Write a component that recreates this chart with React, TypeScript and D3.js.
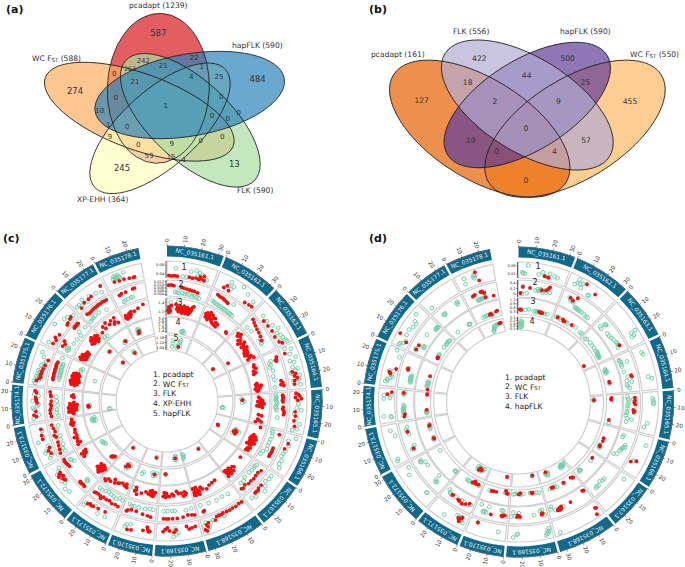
import React from "react";
import * as d3 from "d3";

const FONT = "'DejaVu Sans', sans-serif";
const sectorNames = ["NC_035161.1","NC_035162.1","NC_035163.1","NC_035164.1","NC_035165.1","NC_035166.1","NC_035167.1","NC_035168.1","NC_035169.1","NC_035170.1","NC_035171.1","NC_035172.1","NC_035173.1","NC_035174.1","NC_035175.1","NC_035176.1","NC_035177.1","NC_035178.1"];
const sectorStart = [0,22.3,44.5,65.1,85.7,104.9,123.9,142.4,165.4,185.5,203.2,221.1,242.2,260.9,276.9,294.9,314.9,332.4];
const sectorEnd = [21.4,43.6,64.2,84.8,104,123,141.5,164.5,184.6,202.3,220.2,241.3,260,276,294,314,331.5,349.4];
const sectorMb = [33,33,29.5,29,29,28,27,34,29,27,27,32,28,24,26,29,26,27];

// ----- Panel (c): rows are sectors 161..178, flat pairs of position (%) and value (%)
const cT1Red = [
[4,10,10,8,16,10,22,8,48,12,55,10,62,15,70,30,74,18,78,40,68,10,80,12],
[20,20,25,40,32,15,85,15,92,18,75,10],
[30,10,45,12,60,15,75,10,90,18,95,35],
[60,30,65,50,70,40,75,55,80,35,88,30,15,20],
[5,35,8,50,12,60,15,30,18,70,22,45,50,30,60,35,72,30,85,40],
[25,30,40,20],
[45,15,55,15,60,25,65,20,70,22],
[5,10,12,8,20,12,28,10,35,12,42,10,50,8,55,12,60,10,65,12,70,30,85,30,88,55,90,40,92,80,95,70],
[10,30,18,35,25,40,30,20,55,35,60,50,70,40,75,20,80,30,85,45],
[12,50,15,55,18,40,20,25,30,50,60,65,70,70],
[35,20,55,25,70,30,75,35,80,28,85,38],
[55,30,60,40,65,25,68,55,70,35,72,45,75,30],
[20,20,28,30,35,15,60,40,70,40,85,35],
[15,50,20,65,30,50,55,40,60,45,65,45,70,50,85,45,90,55],
[12,55,18,40,22,30,28,35,32,30,38,30,45,25,55,20,70,10],
[10,25,20,15,25,30,35,15,65,10,70,15,80,20,85,25],
[15,15,30,30,45,30,55,35,90,60],
[22,40,35,35,48,35,62,30,73,27,76,28],
];
const cT1Green = [
[18,60,50,50,60,65,68,55,74,45,65,30,34,10,42,12,85,20],
[30,75,38,55,28,45,55,90,70,65,88,50,35,30],
[20,30,35,25,50,40,62,60,70,35,78,50,85,55,88,30,92,65,96,70],
[5,30,10,70,20,50,30,80,35,35,40,60,50,40,55,70,58,55,62,20,65,35,70,75,78,65,82,25,85,50,90,70],
[30,50,40,40,45,70,55,25,65,45,78,70,90,60,95,30],
[8,70,18,25,30,40,45,30,52,25,60,20,70,35,80,30,88,45],
[10,30,20,30,30,20,40,40,50,60,75,45,85,30],
[50,30,75,25,80,35,85,60,90,25,95,45],
[50,55,55,65,58,40,62,80,58,25],
[65,30,75,40,78,55],
[30,50,50,55,65,20,90,40,92,60],
[30,60,40,70,50,45,58,55,62,30,66,40,74,55,78,35,85,20],
[10,40,15,25,25,55,30,40,40,20,55,75,65,35,80,30],
[10,70,20,30,35,60,40,70,45,40,50,30,60,70,75,30,80,60],
[5,60,10,70,14,40,18,55,22,60,26,40,30,55,34,45,38,55,42,40,48,30,52,45,58,30,65,20,75,45,85,65],
[8,55,50,80,72,50,80,40,92,20],
[8,40,15,40,20,25,30,55,40,20,50,45,70,35,85,20],
[22,60,25,75,27,65,28,55,30,70,32,50,33,60,35,78,38,65,40,55,52,78],
];
const cT2Red = [
[4,70,10,72,16,68,34,62,40,58,47,55,54,52,60,50,66,50,74,45],
[15,85,20,80,25,78,30,78,35,72,40,70,45,65],
[10,90,18,80,26,72,35,65,45,60,55,55,65,45],
[15,85,20,80,22,70,25,75,75,70,80,80,85,65,88,85],
[8,70,12,72,15,75,18,70,22,68,26,72,40,75,45,70,50,80,55,85,60,80],
[10,80,50,72,55,72,60,75,65,72,70,70,75,72],
[15,80,25,70,35,70,45,75,55,70,65,72,75,60,85,70,90,65],
[85,70,88,75],
[5,80,12,75,22,70,35,80,50,85,62,85,72,85,78,85,85,85],
[15,80,25,75,40,70,60,60,75,60,85,70,88,80],
[10,75,20,70,30,75,40,65,50,70,60,65,65,85,70,72,78,68,85,70,90,75],
[15,90,20,88,25,90,28,92,30,88,75,80,80,85,85,88,88,90,92,92,95,88],
[10,90,20,85,30,80,40,75,55,75,60,85,70,72,80,78,90,85],
[10,75,20,80,30,80,35,75,45,70,50,75,60,70,75,72,80,75,90,80],
[22,72,26,75,30,72,34,72,38,75,42,72,46,72,50,75,54,72,58,72,62,72,66,75,70,72,74,70],
[15,85,22,75,28,90,70,85,72,90,75,85,78,88,80,85,83,88,85,85],
[15,85,22,80,30,82,38,85,45,85,52,85,58,88,65,85,72,88,78,85,85,85],
[20,70,27,75,40,75,62,80,68,82],
];
const cT2Green = [
[20,25,25,20,30,18,30,55,38,22,44,18,50,18,56,20,62,12,68,15,74,12,80,10],
[10,30,15,25,20,22,25,20,30,18,35,18,40,15,45,15,50,14,55,12,58,80,60,12,65,10,70,10],
[15,20,30,25,60,40,65,42,70,38,72,30],
[20,35,25,20,30,25,35,15,45,30,60,20,70,25,90,20],
[8,20,12,25,16,22,20,20,25,25,30,30,35,25,40,20,45,22,50,28,70,40],
[5,25,10,30,20,35,30,30,40,30,50,30,60,35,70,15,80,10],
[10,30,15,20,20,25,30,25,40,20,60,20,70,35,80,30],
[20,35,35,30,50,35,70,30,90,25],
[10,30,25,35,55,30,62,30,75,30,85,30],
[10,25,20,25,35,30,55,30,70,30,78,35,85,25],
[5,20,15,15,25,30,35,25,45,20,55,15,65,20,75,30,85,25],
[18,45,20,50,22,40,80,30,85,45,88,50],
[10,50,20,60,30,45,45,50,55,45,72,55,85,40],
[10,25,20,35,30,30,45,25,60,30,75,35],
[25,30,30,28,35,30,40,28,45,30,50,28,55,30,60,32,65,30,70,28,75,30,90,50],
[10,40,14,35,15,50,18,40,35,25,50,20,65,15,70,40,90,30],
[8,30,15,35,22,35,30,40,45,40,70,25],
[25,15,30,20,40,22,50,25,55,27],
];
const cT3Red = [
[3,30,5,50,6,15,8,40,10,25,12,60,25,70,28,40,30,55,32,35,34,25,36,45,38,60,40,30,42,50,44,20,46,40,48,65,50,30,52,50,54,20,56,40,58,60,60,30,62,45,64,20,66,55,68,35,70,50,72,70,75,75],
[8,60,10,40,12,70,15,50,18,30,20,80,20,60,24,45,28,70,30,35,32,55,35,25,38,60,42,20,45,40,50,15,52,35,85,30,88,25],
[10,75,14,60,18,85,22,70,26,45,30,60,34,30,38,45,42,70,46,55,50,35,54,50,58,65,62,40,66,55,70,30,74,50,78,25,82,40,86,60,90,45,94,30,95,70],
[12,50,18,45,24,55,30,35,36,45,40,30,70,35,74,25,78,40,78,60,82,30,85,50,88,20,92,40,95,30],
[10,35,15,45,20,50,22,60,25,30,28,45,30,55,32,70,35,40,38,55,40,25,42,40,45,60,70,40,72,60,85,40,88,50,92,65,95,30],
[5,70,35,45,40,60,42,35,45,50,48,70,50,30,52,45,55,60,58,35,60,55,62,70,65,40,68,55,70,25,72,45,80,60,85,45,90,55,92,40],
[20,40,60,50,65,40,70,65,75,45,78,30,80,55,82,70,85,40,88,55,90,30,92,60,94,45,95,70,96,30],
[30,40,40,45,50,50,60,65,70,55,75,40,80,60,82,80,85,50,87,70,88,30,90,60,92,80,94,40,95,60,96,75,97,35],
[15,50,18,60,20,40,25,65,30,45,40,45,45,30,55,55,60,45,68,60,75,55,78,40,80,65,82,50,85,35,88,60],
[10,40,15,55,18,65,20,45,22,30,25,60,28,50,30,35,35,55,45,45,60,60,75,75,80,50,83,35,85,60],
[10,60,15,40,20,55,30,45,40,55,45,60,55,70,60,50,70,75,80,70,85,90,90,85],
[5,40,8,55,10,30,12,65,14,45,15,80,16,25,18,55,20,70,22,35,24,50,26,30,28,60,75,85,80,75,82,60,85,90,88,70,90,55],
[10,80,15,60,20,75,30,70,35,85,40,65,50,70,60,65,75,70,80,80,83,60,85,75,88,70,95,70],
[10,50,15,60,18,80,20,45,22,65,24,30,26,55,28,75,30,40,32,60,34,80,36,30,38,50,40,70,42,40,44,60,46,25,48,50,50,70,55,45,75,45,80,60,85,50],
[15,50,18,70,20,35,22,55,24,75,26,40,28,60,30,80,30,25,32,45,34,65,36,30,38,50,40,70,42,35,44,55,46,75,48,40,50,60,52,30,54,50,56,70,58,40,60,55],
[5,60,8,45,10,70,12,30,15,50,18,40,20,65,22,30,25,50,28,35,30,45,32,30,35,45,65,50,70,70,72,40,75,60,78,80,80,45,82,65,85,30,88,55,90,70,92,40,95,60],
[10,50,25,75,30,55,40,85,50,60,60,75,65,45,70,55,75,80,80,40],
[8,40,10,55,12,30,15,45,18,35,22,50,25,60,25,35,30,50,33,65,45,60,60,70,80,85],
];
const cT3Green = [
[10,80,30,85],[],[],[],[],[],[],[],[],[92,40],[],[],[],[],[70,30,75,35,80,25],[],[5,20,15,15],[],
];
const cT4Red = [
[],[],[70,20],[],[20,45],[45,40,50,50,52,30,55,35,60,45],[],[],[82,30],[25,40],[40,45,48,40,52,60],[10,50,15,65,18,60,20,70],[],[32,65,35,70,38,72],[],[83,48],[62,28],[30,30,33,45],
];
const cT4Green = [
[55,15,58,12,60,20,65,10],[],[],[],[15,40,20,50,25,60,30,45],[40,40,45,55,48,70,50,30,55,50,60,25],[],[],[80,35,83,30],[15,30,20,45,25,35,30,50,35,30,75,40,80,55],[35,40,40,60,42,30,45,50,48,70,50,35,55,55],[8,50,70,40,75,45,80,50,85,55],[70,50,72,35,75,60,78,45,82,55,85,40],[30,70,35,65,40,60],[50,40],[80,50,85,45],[55,20,60,30,65,25],[25,30,28,50,30,40,32,60,35,35,36,55,38,45],
];
const cT5Red = [
[55,25],[],[55,30],[],[],[55,30,58,35],[],[20,40],[34,45],[30,45],[75,45],[],[],[],[],[85,50],[68,45],[],
];
const cT5Green = [
[25,20,27,45,28,70,48,15,52,30,55,50,58,65,60,80,62,35],[],[55,30],[],[58,30,60,25,62,35],[],[],[18,40,95,40,96,30,97,50,98,60],[30,60,30,30,32,50,33,30,35,40,38,55],[28,40],[73,40],[],[],[10,40,12,50],[],[83,50],[65,50,67,60,70,40],[],
];

// ----- Panel (d)
const dT1Red = [
[55,25,62,22,64,20],[37,80,62,50],[],[],[],[65,50,72,15],[],[12,85,8,40,6,45],[],[78,15],[15,25,18,35,20,60,22,50,25,40],[],[],[83,45,90,15],[33,45,35,50,37,55,48,12],[16,15,28,85],[],[53,85,57,20],
];
const dT1Green = [
[19,85,8,35,10,28,13,25,42,30,50,50,55,25,65,50,75,40,82,35],[20,85,25,60,20,55,15,40,30,70,50,15,52,20,30,35],[70,85,72,50,78,60,80,40],[15,55,20,60,70,50,75,75],[15,65,20,70,25,75,28,70,75,40,85,20],[22,70,68,30],[13,40],[90,85],[6,35,7,55,9,65,10,50,12,70,15,80,78,50,80,55,88,75],[20,45,78,15],[10,60,15,50,18,25,20,35,22,45,25,30,30,25,60,70],[20,25,22,30,75,45,90,20],[10,70,14,60,70,20,85,45],[15,20,18,25,20,75,70,70,72,25,80,70,82,15],[12,70,15,55,18,60,22,40,25,25,30,35,40,55,42,25,80,15,95,50],[5,55,8,50,12,30,18,20,32,40,45,45,55,30,65,25,68,45,82,70],[15,20],[20,30,22,70,45,55,47,45,48,70,50,60],
];
const dT2Red = [
[5,20,10,62,27,58,55,55,65,60,70,75,72,85],[20,70,28,60,35,90],[82,65],[58,65,62,68],[12,70,20,70,25,65,30,72,45,60,48,70,52,65],[],[],[6,25,9,22,46,45,70,55,70,45,72,60,75,50,75,65,78,55,80,62],[12,55,14,50,16,60,72,60,75,55,78,50,80,60],[8,55,12,55,15,65,18,60,50,65],[15,45,25,60,35,70,45,60,47,62,50,58,70,50,72,55],[],[22,58,72,60],[12,60,20,55,90,60],[55,60,58,62],[12,60,25,58],[],[25,60,32,65,50,70,52,65,55,70,60,25,60,55,85,22],
];
const dT2Green = [
[8,15,10,65,20,20,40,45,45,55,48,45,50,50,52,60,55,50,58,40,62,55,65,45,68,65,75,50],[18,70,22,55,25,60,28,55,30,50,40,30,42,25,45,28,48,25,50,25,55,22,60,25,68,22,75,18,80,20],[14,35,18,65,20,70,20,30,22,72,40,40,48,40,55,45,62,50,70,55,75,58,80,60,85,50],[12,20,15,18,18,25,22,65,25,20,30,22,45,25,60,40,70,30,75,60,80,25,85,30,90,40],[8,20,15,60,15,25,22,30,28,25,35,20,42,22,50,20,55,20,62,15,70,25,72,55,80,22],[15,30,20,25,40,60,45,65,48,55,50,50,55,45,60,40,70,35,75,15],[45,60,52,60,60,50,70,65,75,60,80,65],[65,50,85,55,92,25,95,40],[8,65,12,30,18,35,35,55,75,35,85,55,90,30,95,60],[15,25,20,25,60,18,65,60,70,55,72,65,75,60,85,18],[10,50,18,60,30,55,40,50,60,50,78,55,82,45,88,35],[22,55,25,60,28,50,30,15,70,30,80,30,85,55,87,60,90,50],[20,60,22,70,25,55,30,45,65,55,72,60,78,65,85,55],[15,65,18,55,25,60,30,65,35,60,38,65,42,60,45,55,50,60,85,60,88,55,90,65,95,50],[20,25,22,30,25,25,28,30,30,30,32,25,35,30,38,30,40,25,55,60,58,65,60,55],[10,60,14,65,25,20,28,25,30,20,60,50,85,25,88,28,90,25,92,30,94,25],[27,60,30,55,33,60,78,70,80,60,82,75],[25,55,28,60,35,22,38,20,40,22,42,25,45,22,48,25,52,28,55,22,58,25,60,62],
];
const dT3Red = [
[4,25,8,22,60,25,63,20,66,25,70,22],[12,30,28,35,32,25,35,28,58,32],[],[62,28,66,30],[10,30,13,25,16,28,85,22],[45,25,55,28,72,22,76,25],[18,25],[8,30,10,25,14,20,38,25,70,20,72,25,75,20],[30,20,32,25,34,18,70,15,72,20,75,25],[8,25,12,20,15,5,50,25,60,25,68,28],[15,20,25,25,28,15,30,22,32,10,38,25],[],[24,20,27,22,73,25,75,20],[28,22,90,20,93,18],[5,20,55,22],[18,20,20,25,22,22],[],[55,20,58,25,62,18,80,30,85,35],
];
const dT3Green = [
[8,30,20,25,30,30,45,20,50,25,55,20,58,28,65,22,72,25,78,20,85,25],[8,30,12,35,16,30,22,25,30,30,40,30,45,25,60,35,72,35,90,25,95,30],[10,20,15,25,30,30,40,25,50,28,60,25,65,30,70,28,72,25,75,22,78,20,80,25,82,22,85,20],[22,25,25,20,28,30,30,22,32,28,34,20,68,25],[95,25],[70,20,74,25,78,30,80,25],[30,28,78,22,80,20,82,15,85,25],[8,30,40,25,60,30,65,20,80,25],[10,28,18,25,28,25,38,20,60,22,68,25,80,20,88,22,92,25],[5,25,10,22,18,20,62,25,75,28],[12,25,40,30,50,28,55,30,60,28],[4,35,5,30,8,32,85,22],[22,25,25,28,30,20,60,25,65,20,70,25,78,20],[15,25,18,20,20,28,22,22,25,25],[15,25,18,30,22,22,25,25,28,20,30,28,35,22],[25,20,30,25,32,22,60,25,70,22,75,25,80,28,85,25,88,22],[25,25,75,20,78,22,80,20],[30,18,38,20,45,22,50,20,60,25,65,18],
];
const dT4Red = [
[],[],[85,15],[],[16,22],[],[],[75,20],[21,18],[19,25],[30,40,38,30,42,50],[],[],[],[],[],[],[82,72,88,75],
];
const dT4Green = [
[6,20,6,50,8,15,8,45,9,75,10,25,10,55,12,35,12,65],[],[85,15],[],[13,20,15,25,18,20],[],[],[8,25,10,35,12,45,14,30,16,40,18,25,20,35,22,50,24,40,68,30,70,40,72,55,74,35,76,45,78,30],[20,15,22,20],[18,25],[20,20,25,35,28,50,30,25,32,40,35,55,38,30,40,45,42,20,45,35,48,50,50,25],[],[],[],[],[],[],[50,15,52,25,54,35,56,45,58,55,60,60,65,62,70,65,75,68,80,70,85,72],
];

// Y-axis labels in the gap of each circular plot
const cAxisLabels = [["0.08","0.04"],["0.012","0.010","0.008","0.006","0.004"],["1.4","1.2"],["3.0","2.6","2.2","1.8","1.4"],["1.16","1.10","1.04"]];
const dAxisLabels = [["0.08","0.02"],["0.4","0.2","0"],["1.2","0.9","0.6","0.3"],["2.5","2.0","1.5","1.0","0.5"]];
const cLegend = ["pcadapt","WC FST","FLK","XP-EHH","hapFLK"];
const dLegend = ["pcadapt","WC FST","FLK","hapFLK"];

// ----- Venn counts
const aCounts: [string, number, number, number][] = [
["587",475,100,8.5],["274",225,273,8.5],["484",773,237,8.5],["13",703,491,8.5],["245",366,503,8.5],["242",430,184,7],["22",583,174,7],["0",343,222,7],["263",390,206,6],["21",490,197,7],["1",605,201,7],["21",405,245,7],["4",574,230,7],["25",657,231,7],["0",347,294,7],["0",664,291,7],["1",497,317,7],["10",299,333,7],["0",636,349,7],["0",683,358,7],["0",716,340,7],["1",325,376,7],["0",382,382,7],["9",330,412,7],["0",415,435,7],["9",515,432,7],["0",602,423,7],["0",667,411,7],["53",447,469,7],["15",513,470,7],["1",553,480,7],
];
const bCounts: [string, number, number][] = [
["127",245,300],["18",383,247],["422",418,175],["44",560,226],["500",683,175],["25",736,247],["455",870,303],["2",465,305],["9",655,305],["10",392,420],["0",558,385],["57",738,420],["0",471,455],["4",643,455],["0",558,540],
];

const Sub = ({ t }: { t: string }) => {
  const i = t.indexOf("FST");
  if (i < 0) return <>{t}</>;
  return (
    <>
      <tspan>{t.slice(0, i)}F</tspan>
      <tspan fontSize="0.7em" dy="1.2">ST</tspan>
      <tspan dy="-1.2">{t.slice(i + 3)}</tspan>
    </>
  );
};

function Venn() {
  const aE = [
    { c: "#d7191c", x: 158.3, y: 88.3, a: 75, b: 51, r: 92 },
    { c: "#fdae61", x: 139.3, y: 111.7, a: 100, b: 38, r: 20 },
    { c: "#ffffbf", x: 160, y: 128.3, a: 88, b: 38, r: -42 },
    { c: "#abdda4", x: 190.3, y: 120.3, a: 88, b: 40, r: 43 },
    { c: "#2b83ba", x: 189.7, y: 95, a: 96, b: 41, r: -10 },
  ];
  const bE = [
    { c: "#fdb863", x: 575, y: 128.7, a: 101.7, b: 50, r: -32 },
    { c: "#e66101", x: 479.7, y: 128.7, a: 101.7, b: 50, r: 32 },
    { c: "#5e3c99", x: 527.3, y: 105, a: 94, b: 45, r: -32 },
    { c: "#b2abd2", x: 527.3, y: 105, a: 97, b: 47, r: 32 },
  ];
  const labels: [string, number, number][] = [
    ["pcadapt (1239)", 129, 8],["WC FST (588)", 32, 61],["hapFLK (590)", 232, 48],["FLK (590)", 237, 193],["XP-EHH (364)", 77, 202],
    ["pcadapt (161)", 371, 57],["FLK (556)", 453, 34],["hapFLK (590)", 560, 34],["WC FST (550)", 630, 57],
  ];
  return (
    <g fontFamily={FONT}>
      {[...aE, ...bE].map((e, i) => (
        <ellipse key={i} cx={e.x} cy={e.y} rx={e.a} ry={e.b} transform={`rotate(${e.r} ${e.x} ${e.y})`} fill={e.c} fillOpacity={0.7} />
      ))}
      {[...aE, ...bE].map((e, i) => (
        <ellipse key={i} cx={e.x} cy={e.y} rx={e.a} ry={e.b} transform={`rotate(${e.r} ${e.x} ${e.y})`} fill="none" stroke="#1c1c1c" strokeWidth={0.8} />
      ))}
      {labels.map(([t, x, y], i) => (
        <text key={i} x={x} y={y} fontSize={7.6} fill="#333"><Sub t={t} /></text>
      ))}
      {aCounts.map(([t, x, y, s], i) => (
        <text key={i} x={x / 3} y={y / 3} fontSize={s} fill="#333" textAnchor="middle" dominantBaseline="central">{t}</text>
      ))}
      {bCounts.map(([t, x, y], i) => (
        <text key={i} x={340 + x / 3} y={y / 3} fontSize={7.6} fill="#333" textAnchor="middle" dominantBaseline="central">{t}</text>
      ))}
    </g>
  );
}

type Track = { r0: number; r1: number; red: number[][]; green: number[][]; axis: string[] };

function Circos({ cx, cy, tracks, legend, legendX, legendY, legendStep, trackLabels }: {
  cx: number; cy: number; tracks: Track[]; legend: string[]; legendX: number; legendY: number; legendStep: number; trackLabels: [number, number][];
}) {
  const R1 = 155, R0 = 144.5;
  const rad = (d: number) => (d * Math.PI) / 180;
  const pt = (deg: number, r: number): [number, number] => [Math.sin(rad(deg)) * r, -Math.cos(rad(deg)) * r];
  const arc = d3.arc<any>();
  const pairs = (row: number[]) => d3.range(0, row.length, 2).map((i) => [row[i], row[i + 1]]);
  const angleOf = (s: number) => d3.scaleLinear().domain([0, 100]).range([sectorStart[s], sectorEnd[s]]);
  return (
    <g transform={`translate(${cx},${cy})`} fontFamily={FONT}>
      {sectorNames.map((n, s) => {
        const a0 = rad(sectorStart[s]), a1 = rad(sectorEnd[s]);
        const mid = (sectorStart[s] + sectorEnd[s]) / 2;
        const [tx, ty] = pt(mid, (R0 + R1) / 2);
        const mb = d3.scaleLinear().domain([0, sectorMb[s]]).range([sectorStart[s], sectorEnd[s]]);
        const ticks = d3.range(0, sectorMb[s] + 0.001, 10);
        return (
          <g key={n}>
            <path d={arc({ innerRadius: R0, outerRadius: R1, startAngle: a0, endAngle: a1 })!} fill="#10698a" />
            <path d={arc({ innerRadius: R1, outerRadius: R1 + 0.6, startAngle: a0, endAngle: a1 })!} fill="#1a2a33" />
            <text x={tx} y={ty} fill="#e6f2f6" fontSize={5.8} textAnchor="middle" dominantBaseline="central" transform={`rotate(${mid} ${tx} ${ty})`}>{n}</text>
            {ticks.map((t) => {
              const d = mb(t);
              const [x0, y0] = pt(d, R1);
              const [x1, y1] = pt(d, R1 + 2.5);
              const [lx, ly] = pt(d, R1 + 4);
              const right = d < 180;
              return (
                <g key={t}>
                  <line x1={x0} y1={y0} x2={x1} y2={y1} stroke="#333" strokeWidth={0.5} />
                  <text x={lx} y={ly} fontSize={5.6} fill="#333" textAnchor={right ? "start" : "end"} dominantBaseline="central" transform={`rotate(${right ? d - 90 : d - 270} ${lx} ${ly})`}>{t}</text>
                </g>
              );
            })}
            {tracks.map((tr, k) => (
              <path key={k} d={arc({ innerRadius: tr.r0, outerRadius: tr.r1, startAngle: a0, endAngle: a1 })!} fill="none" stroke="#cfcfcf" strokeWidth={1.2} />
            ))}
          </g>
        );
      })}
      {tracks.map((tr, k) => {
        const rs = d3.scaleLinear().domain([0, 100]).range([tr.r0 + 1, tr.r1 - 1]);
        const place = (row: number[], s: number) => pairs(row).map(([p, v]) => pt(angleOf(s)(p), rs(v)));
        return (
          <g key={k}>
            {tr.green.map((row, s) => place(row, s).map(([x, y], i) => (
              <circle key={`g${s}-${i}`} cx={x} cy={y} r={1.9} fill="none" stroke="#74cfab" strokeWidth={1} />
            )))}
            {tr.red.map((row, s) => place(row, s).map(([x, y], i) => (
              <circle key={`r${s}-${i}`} cx={x} cy={y} r={1.9} fill="#f50d0d" />
            )))}
            <line x1={-1} y1={-tr.r0} x2={-1} y2={-tr.r1} stroke="#222" strokeWidth={0.7} />
            {tr.axis.map((t, i) => {
              const y = d3.scaleLinear().domain([-0.5, tr.axis.length - 0.5]).range([-tr.r1, -tr.r0])(i);
              return (
                <g key={t}>
                  <line x1={-1} x2={-2.5} y1={y} y2={y} stroke="#222" strokeWidth={0.4} />
                  <text x={-3} y={y} fontSize={3.6} fill="#222" textAnchor="end" dominantBaseline="central">{t}</text>
                </g>
              );
            })}
          </g>
        );
      })}
      {trackLabels.map(([x, y], i) => (
        <text key={i} x={x - cx} y={y - cy} fontSize={8} fill="#222" textAnchor="middle" dominantBaseline="central">{i + 1}</text>
      ))}
      {legend.map((t, i) => (
        <text key={t} x={legendX - cx} y={legendY - cy + i * legendStep} fontSize={7.6} fill="#222" dominantBaseline="central">
          {i + 1}. <Sub t={t} />
        </text>
      ))}
    </g>
  );
}

const cTracks: Track[] = [
  { r0: 123, r1: 140, red: cT1Red, green: cT1Green, axis: cAxisLabels[0] },
  { r0: 105, r1: 121, red: cT2Red, green: cT2Green, axis: cAxisLabels[1] },
  { r0: 85, r1: 103, red: cT3Red, green: cT3Green, axis: cAxisLabels[2] },
  { r0: 68, r1: 84, red: cT4Red, green: cT4Green, axis: cAxisLabels[3] },
  { r0: 51, r1: 66, red: cT5Red, green: cT5Green, axis: cAxisLabels[4] },
];
const dTracks: Track[] = [
  { r0: 124, r1: 140, red: dT1Red, green: dT1Green, axis: dAxisLabels[0] },
  { r0: 105, r1: 122, red: dT2Red, green: dT2Green, axis: dAxisLabels[1] },
  { r0: 88, r1: 104, red: dT3Red, green: dT3Green, axis: dAxisLabels[2] },
  { r0: 72, r1: 85, red: dT4Red, green: dT4Green, axis: dAxisLabels[3] },
];

export default function App() {
  return (
    <svg width={685} height={567} viewBox="0 0 685 567" style={{ position: "absolute", left: 0, top: 0, background: "#fff" }}>
      <Venn />
      <Circos cx={167} cy={401} tracks={cTracks} legend={cLegend} legendX={153} legendY={374} legendStep={9.8}
        trackLabels={[[184, 267], [181, 284], [180, 302], [178, 322], [176, 338]]} />
      <Circos cx={518.5} cy={402} tracks={dTracks} legend={dLegend} legendX={505} legendY={377} legendStep={9.7}
        trackLabels={[[538, 266], [535, 282], [533, 301], [532, 321]]} />
      {([["(a)", 6, 13], ["(b)", 369, 13], ["(c)", 3, 242], ["(d)", 369, 242]] as [string, number, number][]).map(([t, x, y]) => (
        <text key={t} x={x} y={y} fontFamily={FONT} fontWeight="bold" fontSize={11} fill="#111">{t}</text>
      ))}
    </svg>
  );
}
